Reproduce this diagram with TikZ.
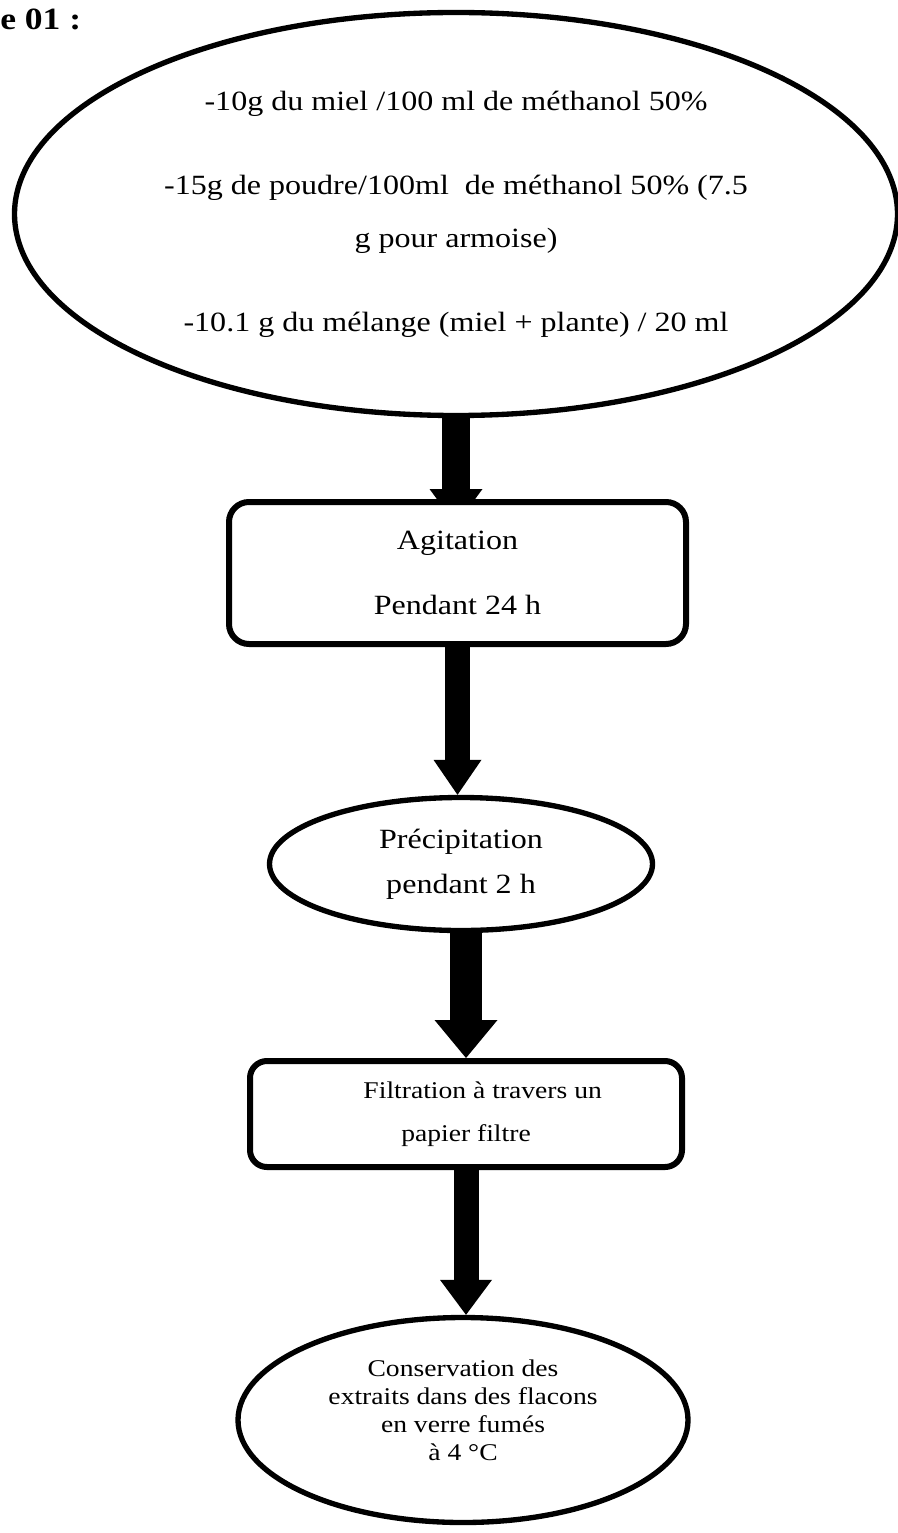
\documentclass[tikz,border=0pt]{standalone}
\usepackage{fontspec}
\setmainfont{Liberation Serif}[FakeStretch=1.15]
\usetikzlibrary{shapes.geometric,arrows.meta,backgrounds,calc}

\begin{document}
\begin{tikzpicture}[x=0.75pt,y=0.75pt,yscale=-1,xscale=1,
	oval/.style={ellipse, draw, line width=4pt, inner sep=0pt, align=center},
	stepbox/.style={rectangle, draw, rounded corners=15pt, line width=4.5pt, fill=white, inner sep=0pt, align=center},
	big/.style={font=\fontsize{20.9}{#1}\selectfont},
	small/.style={font=\fontsize{18}{#1}\selectfont},
	flow/.style n args={3}{line width=#1, -{Triangle[width=#2, length=#3, line width=0pt]}}
]
	\useasboundingbox (0,0) rectangle (897,1533);
	% title
	\node[anchor=base west, inner sep=0pt, font=\bfseries\fontsize{23.2}{26}\selectfont] (titre) at (0,30) {e 01 :};
	% steps
	\node[oval, big=39.75pt, minimum width=662.25pt, minimum height=302.25pt] (melange) at (456,214) {-10g du miel /100 ml de méthanol 50\%\\[23.25pt]-15g de poudre/100ml\ \ de méthanol 50\% (7.5\\g pour armoise)\\[23.25pt]-10.1 g du mélange (miel + plante) / 20 ml};
	\node[stepbox, big=48.75pt, minimum width=342.75pt, minimum height=106.5pt] (agit) at (457.5,573) {Agitation\\Pendant 24 h};
	\node[oval, big=33.75pt, minimum width=287.25pt, minimum height=99.75pt] (prec) at (461,864) {Précipitation\\pendant 2 h};
	\node[stepbox, rounded corners=12.75pt, small=32.25pt, minimum width=324pt, minimum height=79.5pt] (filt) at (466,1114) {\hspace*{25pt}Filtration à travers un\\papier filtre};
	\node[oval, small=20.8pt, minimum width=337.5pt, minimum height=153.75pt] (cons) at (463,1420) {Conservation des\\extraits dans des flacons\\en verre fumés\\à 4 °C\\[-6pt]\mbox{}};
	% arrows
	\begin{scope}[on background layer]
	\draw[flow={21pt}{39.75pt}{27pt}] (melange.south) -- ($(melange.south |- agit.north)+(0,26)$);
	\end{scope}
	\draw[flow={18.75pt}{36pt}{26.25pt}] (agit.south) -- (agit.south |- prec.north);
	\draw[flow={24pt}{47.25pt}{28.5pt}] (filt.north |- prec.south) -- (filt.north);
	\draw[flow={18.75pt}{39pt}{26.25pt}] (filt.south) -- (filt.south |- cons.north);
\end{tikzpicture}
\end{document}
